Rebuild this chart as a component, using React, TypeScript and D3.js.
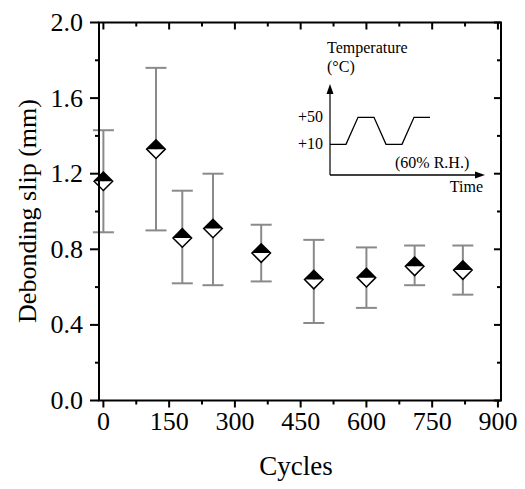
import React from 'react';
import * as d3 from 'd3';

const width = 525;
const height = 489;
const margin = { top: 22.5, right: 24, bottom: 88.5, left: 99 };

// debonding slip vs. number of thermal cycles
const cycles = [0, 120, 180, 250, 360, 480, 600, 710, 820];
const slip = [1.16, 1.33, 0.86, 0.91, 0.78, 0.64, 0.65, 0.71, 0.69];
const slipHigh = [1.43, 1.76, 1.11, 1.2, 0.93, 0.85, 0.81, 0.82, 0.82];
const slipLow = [0.89, 0.9, 0.62, 0.61, 0.63, 0.41, 0.49, 0.61, 0.56];

const xMajor = [0, 150, 300, 450, 600, 750, 900];
const xMinor = [75, 225, 375, 525, 675, 825];
const yMajor = [0, 0.4, 0.8, 1.2, 1.6, 2.0];
const yMinor = [0.2, 0.6, 1.0, 1.4, 1.8];

// inset: temperature cycle schematic
const insetTime = [0, 1, 1.75, 2.75, 3.5, 4.5, 5.25, 6.25];
const insetTemp = [10, 10, 50, 50, 10, 10, 50, 50];
const insetTempTicks = [10, 50];

const font = '"Liberation Serif", "Times New Roman", serif';

const x = d3
  .scaleLinear()
  .domain([-10, 907])
  .range([margin.left, width - margin.right]);
const y = d3
  .scaleLinear()
  .domain([0, 2])
  .range([height - margin.bottom, margin.top]);

const ix = d3.scaleLinear().domain([0, 6.25]).range([330, 430]);
const iy = d3.scaleLinear().domain([10, 50]).range([144.3, 117.3]);

const App = () => {
  const x0 = margin.left;
  const x1 = width - margin.right;
  const y0 = height - margin.bottom;
  const y1 = margin.top;
  const major = 7;
  const minor = 4;
  const capW = 10.5;
  const mk = 9.3;

  const insetLine = d3
    .line<number>()
    .x((d, i) => ix(insetTime[i]))
    .y((d) => iy(d));

  return (
    <svg
      width={width}
      height={height}
      style={{ position: 'absolute', left: 0, top: 0, background: 'white' }}
      fontFamily={font}
    >
      {/* error bars */}
      {cycles.map((c, i) => (
        <g key={'e' + c} stroke="#8a8a8a" strokeWidth={2}>
          <line x1={x(c)} x2={x(c)} y1={y(slipHigh[i])} y2={y(slipLow[i])} />
          <line x1={x(c) - capW} x2={x(c) + capW} y1={y(slipHigh[i])} y2={y(slipHigh[i])} />
          <line x1={x(c) - capW} x2={x(c) + capW} y1={y(slipLow[i])} y2={y(slipLow[i])} />
        </g>
      ))}

      {/* half-filled diamonds */}
      {cycles.map((c, i) => {
        const cx = x(c);
        const cy = y(slip[i]);
        return (
          <g key={'m' + c}>
            <path d={`M${cx - mk},${cy}L${cx},${cy + mk}L${cx + mk},${cy}Z`} fill="white" />
            <path d={`M${cx - mk},${cy}L${cx},${cy - mk}L${cx + mk},${cy}Z`} fill="black" />
            <path
              d={`M${cx - mk},${cy}L${cx},${cy - mk}L${cx + mk},${cy}L${cx},${cy + mk}Z`}
              fill="none"
              stroke="black"
              strokeWidth={1.5}
            />
          </g>
        );
      })}

      {/* frame */}
      <rect x={x0} y={y1} width={x1 - x0} height={y0 - y1} fill="none" stroke="black" strokeWidth={2} />

      {/* x ticks: outward at bottom, inward at top; y ticks: outward left, inward right */}
      <g stroke="black" strokeWidth={2}>
        {xMajor.map((t) => (
          <g key={'xM' + t}>
            <line x1={x(t)} x2={x(t)} y1={y0} y2={y0 + major} />
            <line x1={x(t)} x2={x(t)} y1={y1} y2={y1 + major} />
          </g>
        ))}
        {xMinor.map((t) => (
          <g key={'xm' + t}>
            <line x1={x(t)} x2={x(t)} y1={y0} y2={y0 + minor} />
            <line x1={x(t)} x2={x(t)} y1={y1} y2={y1 + minor} />
          </g>
        ))}
        {yMajor.map((t) => (
          <g key={'yM' + t}>
            <line x1={x0 - 9} x2={x0} y1={y(t)} y2={y(t)} />
            <line x1={x1 - major} x2={x1} y1={y(t)} y2={y(t)} />
          </g>
        ))}
        {yMinor.map((t) => (
          <g key={'ym' + t}>
            <line x1={x0 - minor} x2={x0} y1={y(t)} y2={y(t)} />
            <line x1={x1 - minor} x2={x1} y1={y(t)} y2={y(t)} />
          </g>
        ))}
      </g>

      {/* tick labels */}
      {xMajor.map((t) => (
        <text key={'xl' + t} x={x(t)} y={y0 + 29} fontSize={26} textAnchor="middle">
          {t}
        </text>
      ))}
      {yMajor.map((t) => (
        <text key={'yl' + t} x={x0 - 16} y={y(t) + 8.5} fontSize={26} textAnchor="end">
          {d3.format('.1f')(t)}
        </text>
      ))}

      {/* axis titles */}
      <text x={296} y={475} fontSize={27} textAnchor="middle">
        Cycles
      </text>
      <text
        transform={`translate(36, 211) rotate(-90)`}
        fontSize={26}
        textAnchor="middle"
      >
        Debonding slip (mm)
      </text>

      {/* inset */}
      <g fontSize={16}>
        <text x={327} y={53}>Temperature</text>
        <text x={327} y={72}>(°C)</text>
        <line x1={330} x2={330} y1={92} y2={175} stroke="#333" strokeWidth={1.5} />
        <path d="M330,84L326.5,94L333.5,94Z" fill="black" />
        <line x1={330} x2={476} y1={175} y2={175} stroke="black" strokeWidth={1.5} />
        <path d="M485,175L475,171.5L475,178.5Z" fill="black" />
        <path d={insetLine(insetTemp) ?? ''} fill="none" stroke="black" strokeWidth={1.3} />
        {insetTempTicks.map((t) => (
          <text key={'it' + t} x={323} y={iy(t) + 5} textAnchor="end">
            {'+' + t}
          </text>
        ))}
        <text x={395} y={168}>(60% R.H.)</text>
        <text x={483} y={192} textAnchor="end">Time</text>
      </g>
    </svg>
  );
};

export default App;
